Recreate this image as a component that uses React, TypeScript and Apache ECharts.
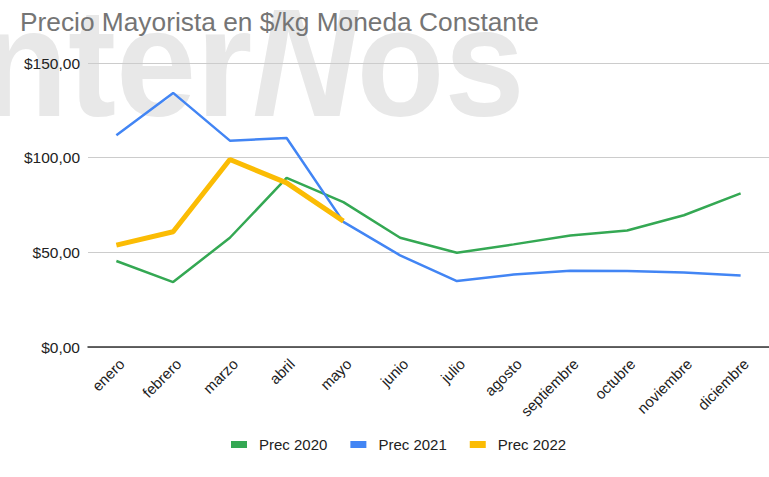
import React, { useEffect, useRef } from "react";
import * as echarts from "echarts";

const months = ["enero", "febrero", "marzo", "abril", "mayo", "junio", "julio", "agosto", "septiembre", "octubre", "noviembre", "diciembre"];
const prec2020 = [45.4, 34.3, 57.7, 89.3, 76.5, 57.7, 49.8, 54.2, 58.9, 61.5, 69.6, 81.1];
const prec2021 = [111.8, 134.2, 109.0, 110.4, 66.1, 48.4, 34.8, 38.3, 40.3, 40.1, 39.4, 37.8];
const prec2022 = [53.8, 60.9, 99.0, 86.7, 66.5];
const seriesNames = ["Prec 2020", "Prec 2021", "Prec 2022"];
const titleText = "Precio Mayorista en $/kg Moneda Constante";

const FONT = "Arial, 'Liberation Sans', sans-serif";

export default function App() {
  const ref = useRef<HTMLDivElement>(null);
  useEffect(() => {
    if (!ref.current) return;
    const chart = echarts.init(ref.current, undefined, { renderer: "svg" });
    chart.setOption({
      animation: false,
      backgroundColor: "#ffffff",
      textStyle: { fontFamily: FONT },
      title: {
        text: titleText,
        left: 15,
        top: 4,
        textStyle: { fontFamily: FONT, fontSize: 26.3, fontWeight: "normal", color: "#757575" },
      },
      graphic: [
        {
          type: "text",
          x: -60,
          y: 63,
          z: -10,
          silent: true,
          scaleX: 0.93,
          style: {
            text: "{a|Inter}{b|N}{a|os}",
            verticalAlign: "middle",
            rich: {
              a: { fontFamily: FONT, fontSize: 155, fontWeight: "bold", fill: "#e8e8e8" },
              b: { fontFamily: FONT, fontSize: 155, fontWeight: "bold", fontStyle: "italic", fill: "#e8e8e8" },
            },
          },
        },
      ],
      legend: {
        data: seriesNames,
        left: 226,
        top: 432,
        icon: "rect",
        itemWidth: 16,
        itemHeight: 7,
        itemGap: 23,
        textStyle: { fontFamily: FONT, fontSize: 15, color: "#222222", padding: [0, 0, 0, 7] },
      },
      grid: { left: 88, right: -4, top: 63, bottom: 130, containLabel: false },
      xAxis: {
        type: "category",
        data: months,
        boundaryGap: true,
        axisLine: { show: true, lineStyle: { color: "#333333", width: 1.5 } },
        axisTick: { show: false },
        axisLabel: {
          rotate: 45,
          fontFamily: FONT,
          fontSize: 15,
          color: "#222222",
          margin: 9,
          interval: 0,
          verticalAlign: "top",
        },
      },
      yAxis: {
        type: "value",
        min: 0,
        max: 150,
        interval: 50,
        axisLine: { show: false },
        axisTick: { show: false },
        splitLine: { lineStyle: { color: "#cccccc", width: 1 } },
        axisLabel: {
          fontFamily: FONT,
          fontSize: 15.5,
          color: "#222222",
          margin: 8,
          formatter: (v: number) => "$" + v.toFixed(2).replace(".", ","),
        },
      },
      series: [
        {
          name: seriesNames[0],
          type: "line",
          data: prec2020,
          symbol: "none",
          z: 2,
          lineStyle: { color: "#34a853", width: 2.5 },
          itemStyle: { color: "#34a853" },
        },
        {
          name: seriesNames[1],
          type: "line",
          data: prec2021,
          symbol: "none",
          z: 3,
          lineStyle: { color: "#4285f4", width: 2.5 },
          itemStyle: { color: "#4285f4" },
        },
        {
          name: seriesNames[2],
          type: "line",
          data: prec2022,
          symbol: "none",
          z: 4,
          lineStyle: { color: "#fbbc04", width: 5 },
          itemStyle: { color: "#fbbc04" },
        },
      ],
    });
    return () => chart.dispose();
  }, []);
  return <div ref={ref} style={{ width: 769, height: 477, position: "absolute", left: 0, top: 0 }} />;
}
